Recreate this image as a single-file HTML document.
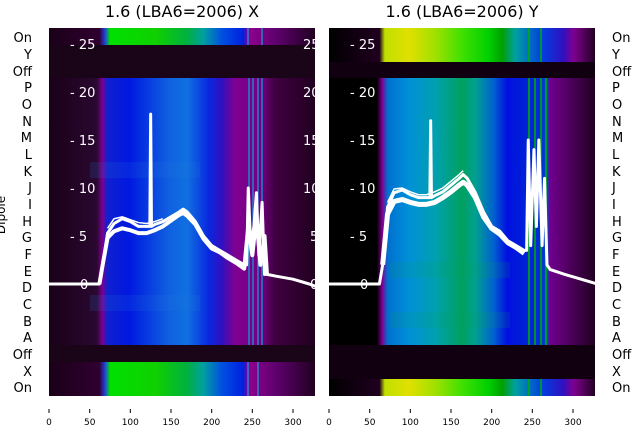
<!DOCTYPE html>
<html><head><meta charset="utf-8"><style>
html,body{margin:0;padding:0;background:#fff;}
svg{display:block;font-family:"DejaVu Sans","Liberation Sans",sans-serif;}
</style></head><body>
<svg width="640" height="440" viewBox="0 0 640 440" xmlns="http://www.w3.org/2000/svg">
<defs>
<linearGradient id="lb" x1="0" x2="1" y1="0" y2="0">
<stop offset="0" stop-color="#1a0018"/><stop offset="0.18" stop-color="#2a0830"/><stop offset="0.2" stop-color="#7a0090"/><stop offset="0.22" stop-color="#1020d0"/><stop offset="0.3" stop-color="#0018e0"/><stop offset="0.45" stop-color="#1060e0"/><stop offset="0.52" stop-color="#1070e0"/><stop offset="0.6" stop-color="#0828e0"/><stop offset="0.65" stop-color="#3010c0"/><stop offset="0.7" stop-color="#800090"/><stop offset="0.8" stop-color="#700080"/><stop offset="0.85" stop-color="#400040"/><stop offset="1" stop-color="#200020"/>
</linearGradient>
<linearGradient id="lg" x1="0" x2="1" y1="0" y2="0">
<stop offset="0" stop-color="#1a0018"/><stop offset="0.19" stop-color="#300030"/><stop offset="0.21" stop-color="#2040e0"/><stop offset="0.23" stop-color="#00e000"/><stop offset="0.4" stop-color="#10d000"/><stop offset="0.52" stop-color="#00b040"/><stop offset="0.58" stop-color="#00a0a0"/><stop offset="0.65" stop-color="#0050e0"/><stop offset="0.73" stop-color="#0020e0"/><stop offset="0.75" stop-color="#900090"/><stop offset="0.85" stop-color="#600070"/><stop offset="1" stop-color="#200020"/>
</linearGradient>
<linearGradient id="rb" x1="0" x2="1" y1="0" y2="0">
<stop offset="0" stop-color="#000"/><stop offset="0.18" stop-color="#000"/><stop offset="0.2" stop-color="#800090"/><stop offset="0.22" stop-color="#0070d0"/><stop offset="0.3" stop-color="#0090d8"/><stop offset="0.4" stop-color="#00a0b0"/><stop offset="0.5" stop-color="#00a060"/><stop offset="0.55" stop-color="#00a090"/><stop offset="0.62" stop-color="#0060d0"/><stop offset="0.67" stop-color="#0010e0"/><stop offset="0.8" stop-color="#0030d0"/><stop offset="0.82" stop-color="#0050c0"/><stop offset="0.83" stop-color="#700090"/><stop offset="0.9" stop-color="#500060"/><stop offset="1" stop-color="#200020"/>
</linearGradient>
<linearGradient id="ry" x1="0" x2="1" y1="0" y2="0">
<stop offset="0" stop-color="#000"/><stop offset="0.19" stop-color="#200020"/><stop offset="0.21" stop-color="#c0e000"/><stop offset="0.3" stop-color="#e0e000"/><stop offset="0.4" stop-color="#a0e000"/><stop offset="0.5" stop-color="#40e000"/><stop offset="0.6" stop-color="#00d000"/><stop offset="0.65" stop-color="#00a000"/><stop offset="0.7" stop-color="#00a0a0"/><stop offset="0.8" stop-color="#0040e0"/><stop offset="0.88" stop-color="#3010c0"/><stop offset="0.92" stop-color="#800090"/><stop offset="1" stop-color="#200020"/>
</linearGradient>
<clipPath id="cl"><rect x="49" y="28" width="266" height="368"/></clipPath>
<clipPath id="cr"><rect x="329" y="28" width="266" height="368"/></clipPath>
</defs>

<text x="182" y="17" font-size="16" text-anchor="middle">1.6 (LBA6=2006) X</text>
<text x="462" y="17" font-size="16" text-anchor="middle">1.6 (LBA6=2006) Y</text>

<g clip-path="url(#cl)">
<rect x="49" y="28" width="266" height="17" fill="url(#lg)"/>
<rect x="49" y="45" width="266" height="33" fill="#1a0418"/>
<rect x="49" y="78" width="266" height="267" fill="url(#lb)"/>
<rect x="90" y="162" width="110" height="16" fill="#2080e0" opacity="0.15"/>
<rect x="90" y="295" width="110" height="16" fill="#2080e0" opacity="0.15"/>
<rect x="49" y="345" width="266" height="17" fill="#1a0418"/>
<rect x="49" y="362" width="266" height="34" fill="url(#lg)"/>
<g stroke="#10a0e0" stroke-width="1.2">
<line x1="248" y1="28" x2="248" y2="45"/><line x1="249" y1="78" x2="249" y2="345"/><line x1="253" y1="78" x2="253" y2="345"/><line x1="258" y1="78" x2="258" y2="345"/><line x1="262" y1="28" x2="262" y2="45"/><line x1="262" y1="78" x2="262" y2="345"/><line x1="248" y1="362" x2="248" y2="396"/><line x1="258" y1="362" x2="258" y2="396"/>
</g>
<g transform="translate(49,284) scale(0.8133,-9.6)" fill="none" stroke="#fff" stroke-linejoin="round">
<path vector-effect="non-scaling-stroke" stroke-width="3" d="M0,0 L62,0 66,2 72,5.3 80,6.3 90,6.8 100,6.5 110,6 120,6 124,6 125,17.7 126,6 130,6.2 140,6.5 150,7 160,7.5 165,7.8 170,7.5 180,6.5 190,5 200,4 210,3.5 220,3 230,2.5 240,2 243,2 245,10 248,4 252,6 255,9.5 258,3 262,8.5 265,1 268,1 280,0.8 300,0.5 320,0 330,-0.3"/>
<path vector-effect="non-scaling-stroke" stroke-width="4" d="M62,0 66,2 72,4.8 80,5.5 90,5.8 100,5.6 110,5.3 120,5.3 130,5.6 140,6 150,6.6 160,7.2 165,7.4 170,7.1 180,6.2 190,4.7 200,3.7 210,3.3 220,2.7 230,2.2 240,1.6 245,6 250,3 255,7 260,2 265,5 268,1"/>
<path vector-effect="non-scaling-stroke" stroke-width="1.5" d="M72,5.8 80,6.8 90,7 100,6.7 110,6.4 120,6.3 130,6.5 140,6.8"/>
</g>
</g>

<g clip-path="url(#cr)">
<rect x="329" y="28" width="266" height="34" fill="url(#ry)"/>
<rect x="329" y="62" width="266" height="16" fill="#100010"/>
<rect x="329" y="78" width="266" height="267" fill="url(#rb)"/>
<rect x="390" y="262" width="120" height="16" fill="#00a060" opacity="0.15"/>
<rect x="390" y="312" width="120" height="16" fill="#00a060" opacity="0.15"/>
<rect x="329" y="345" width="266" height="34" fill="#100010"/>
<rect x="329" y="379" width="266" height="17" fill="url(#ry)"/>
<g stroke="#00b000" stroke-width="1.5">
<line x1="529" y1="28" x2="529" y2="62"/><line x1="541" y1="28" x2="541" y2="62"/>
<line x1="529" y1="78" x2="529" y2="345"/><line x1="535" y1="78" x2="535" y2="345"/><line x1="541" y1="78" x2="541" y2="345"/><line x1="546" y1="78" x2="546" y2="345"/>
<line x1="529" y1="379" x2="529" y2="396"/><line x1="541" y1="379" x2="541" y2="396"/>
</g>
<g transform="translate(329,284) scale(0.8133,-9.6)" fill="none" stroke="#fff" stroke-linejoin="round">
<path vector-effect="non-scaling-stroke" stroke-width="3" d="M0,0 L62,0 66,2 72,8 80,9.5 90,9.8 100,9.3 110,9 120,9 124,9 125,17 126,9 130,9.2 140,9.6 150,10.3 160,11 165,11.4 170,11 180,9.5 190,7.5 200,6 210,5.5 220,4.5 230,4 240,3.5 243,3.5 245,15 248,4 252,14 255,6 258,15 262,4 265,11 268,2 272,1.5 290,1 310,0.5 330,0"/>
<path vector-effect="non-scaling-stroke" stroke-width="5" d="M66,2 72,7.3 80,8.6 90,8.8 100,8.5 110,8.3 120,8.3 130,8.5 140,9 150,9.6 160,10.3 165,10.6 170,10.3 180,9 190,7 200,5.8 210,5.2 220,4.3 230,3.8 240,3.2"/>
<path vector-effect="non-scaling-stroke" stroke-width="1.5" d="M72,8.5 80,9.9 90,10 100,9.6 110,9.3 120,9.3 130,9.6 140,10 150,10.7 160,11.4 165,11.8"/>
</g>
</g>

<g fill="#fff" font-size="13">
<text x="70" y="49">- 25</text><text x="70" y="97">- 20</text><text x="70" y="145">- 15</text><text x="70" y="193">- 10</text><text x="70" y="241">- 5</text><text x="80" y="289">0</text>
<text x="303" y="49">25</text><text x="303" y="97">20</text><text x="303" y="145">15</text><text x="303" y="193">10</text><text x="310" y="241">5</text><text x="310" y="289">0</text>
<text x="350" y="49">- 25</text><text x="350" y="97">- 20</text><text x="350" y="145">- 15</text><text x="350" y="193">- 10</text><text x="350" y="241">- 5</text><text x="360" y="289">0</text>
</g>

<g font-size="13" fill="#000">
<g text-anchor="end">
<text x="32" y="42">On</text><text x="32" y="59">Y</text><text x="32" y="76">Off</text><text x="32" y="92">P</text><text x="32" y="109">O</text><text x="32" y="126">N</text><text x="32" y="142">M</text><text x="32" y="159">L</text><text x="32" y="176">K</text><text x="32" y="192">J</text><text x="32" y="209">I</text><text x="32" y="226">H</text><text x="32" y="242">G</text><text x="32" y="259">F</text><text x="32" y="276">E</text><text x="32" y="292">D</text><text x="32" y="309">C</text><text x="32" y="326">B</text><text x="32" y="342">A</text><text x="32" y="359">Off</text><text x="32" y="376">X</text><text x="32" y="392">On</text>
</g>
<g text-anchor="start">
<text x="612" y="42">On</text><text x="612" y="59">Y</text><text x="612" y="76">Off</text><text x="612" y="92">P</text><text x="612" y="109">O</text><text x="612" y="126">N</text><text x="612" y="142">M</text><text x="612" y="159">L</text><text x="612" y="176">K</text><text x="612" y="192">J</text><text x="612" y="209">I</text><text x="612" y="226">H</text><text x="612" y="242">G</text><text x="612" y="259">F</text><text x="612" y="276">E</text><text x="612" y="292">D</text><text x="612" y="309">C</text><text x="612" y="326">B</text><text x="612" y="342">A</text><text x="612" y="359">Off</text><text x="612" y="376">X</text><text x="612" y="392">On</text>
</g>
<text x="0" y="0" transform="translate(5,215) rotate(-90)" text-anchor="middle" font-size="12">Dipole</text>
</g>

<g stroke="#000" stroke-width="1">
<line x1="49" y1="409" x2="49" y2="413"/><line x1="89.7" y1="409" x2="89.7" y2="413"/><line x1="130.3" y1="409" x2="130.3" y2="413"/><line x1="171" y1="409" x2="171" y2="413"/><line x1="211.7" y1="409" x2="211.7" y2="413"/><line x1="252.3" y1="409" x2="252.3" y2="413"/><line x1="293" y1="409" x2="293" y2="413"/>
<line x1="329" y1="409" x2="329" y2="413"/><line x1="369.7" y1="409" x2="369.7" y2="413"/><line x1="410.3" y1="409" x2="410.3" y2="413"/><line x1="451" y1="409" x2="451" y2="413"/><line x1="491.7" y1="409" x2="491.7" y2="413"/><line x1="532.3" y1="409" x2="532.3" y2="413"/><line x1="573" y1="409" x2="573" y2="413"/>
</g>
<g font-size="9" text-anchor="middle" fill="#000">
<text x="49" y="425">0</text><text x="89.7" y="425">50</text><text x="130.3" y="425">100</text><text x="171" y="425">150</text><text x="211.7" y="425">200</text><text x="252.3" y="425">250</text><text x="293" y="425">300</text>
<text x="329" y="425">0</text><text x="369.7" y="425">50</text><text x="410.3" y="425">100</text><text x="451" y="425">150</text><text x="491.7" y="425">200</text><text x="532.3" y="425">250</text><text x="573" y="425">300</text>
</g>
</svg>
</body></html>
